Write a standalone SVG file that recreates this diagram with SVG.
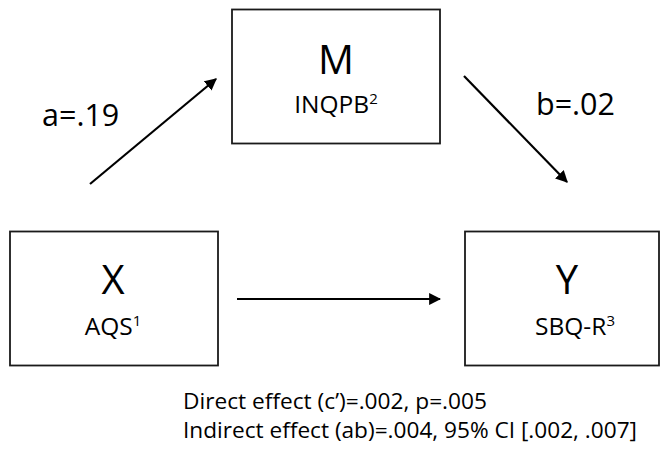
<svg xmlns="http://www.w3.org/2000/svg" width="661" height="451" viewBox="0 0 661 451">
<style>
.box{fill:#fff;stroke:#1a1a1a;stroke-width:1.8}
.t{font-family:"Open Sans","Liberation Sans",sans-serif;fill:#000}
.big{font-size:40px;text-anchor:middle}
.sub{font-size:24.5px;text-anchor:middle}
.sup{font-size:15px}
.lab{font-size:30.5px}
.note{font-size:22px}
.edge{stroke:#000;stroke-width:2.2;fill:none;marker-end:url(#ah)}
</style>
<defs>
<marker id="ah" viewBox="0 0 10 10" refX="9" refY="5" markerWidth="5.5" markerHeight="5.5" orient="auto" markerUnits="strokeWidth">
<path d="M0,0 L10,5 L0,10 z" fill="#000"/>
</marker>
</defs>
<rect width="661" height="451" fill="#fff"/>
<g id="connectors">
<line class="edge" x1="90" y1="184" x2="216" y2="79"/>
<line class="edge" x1="464" y1="76" x2="567" y2="182"/>
<line class="edge" x1="237" y1="299" x2="440" y2="299"/>
</g>
<g id="node-M">
<rect class="box" x="232" y="9.5" width="208" height="134"/>
<text class="t big" x="336" y="74">M</text>
<text class="t sub" x="336" y="113">INQPB<tspan class="sup" dy="-9">2</tspan></text>
</g>
<g id="node-X">
<rect class="box" x="10" y="231.5" width="208" height="134"/>
<text class="t big" x="113" y="294">X</text>
<text class="t sub" x="113" y="335">AQS<tspan class="sup" dy="-9">1</tspan></text>
</g>
<g id="node-Y">
<rect class="box" x="465" y="231.5" width="194" height="134"/>
<text class="t big" x="567" y="294">Y</text>
<text class="t sub" x="575" y="335">SBQ-R<tspan class="sup" dy="-9">3</tspan></text>
</g>
<g id="labels">
<text class="t lab" x="42" y="126">a=.19</text>
<text class="t lab" x="536" y="115">b=.02</text>
<text class="t note" x="183" y="409" textLength="304" lengthAdjust="spacingAndGlyphs">Direct effect (c’)=.002, p=.005</text>
<text class="t note" x="183" y="438" textLength="454" lengthAdjust="spacingAndGlyphs">Indirect effect (ab)=.004, 95% CI [.002, .007]</text>
</g>
</svg>
